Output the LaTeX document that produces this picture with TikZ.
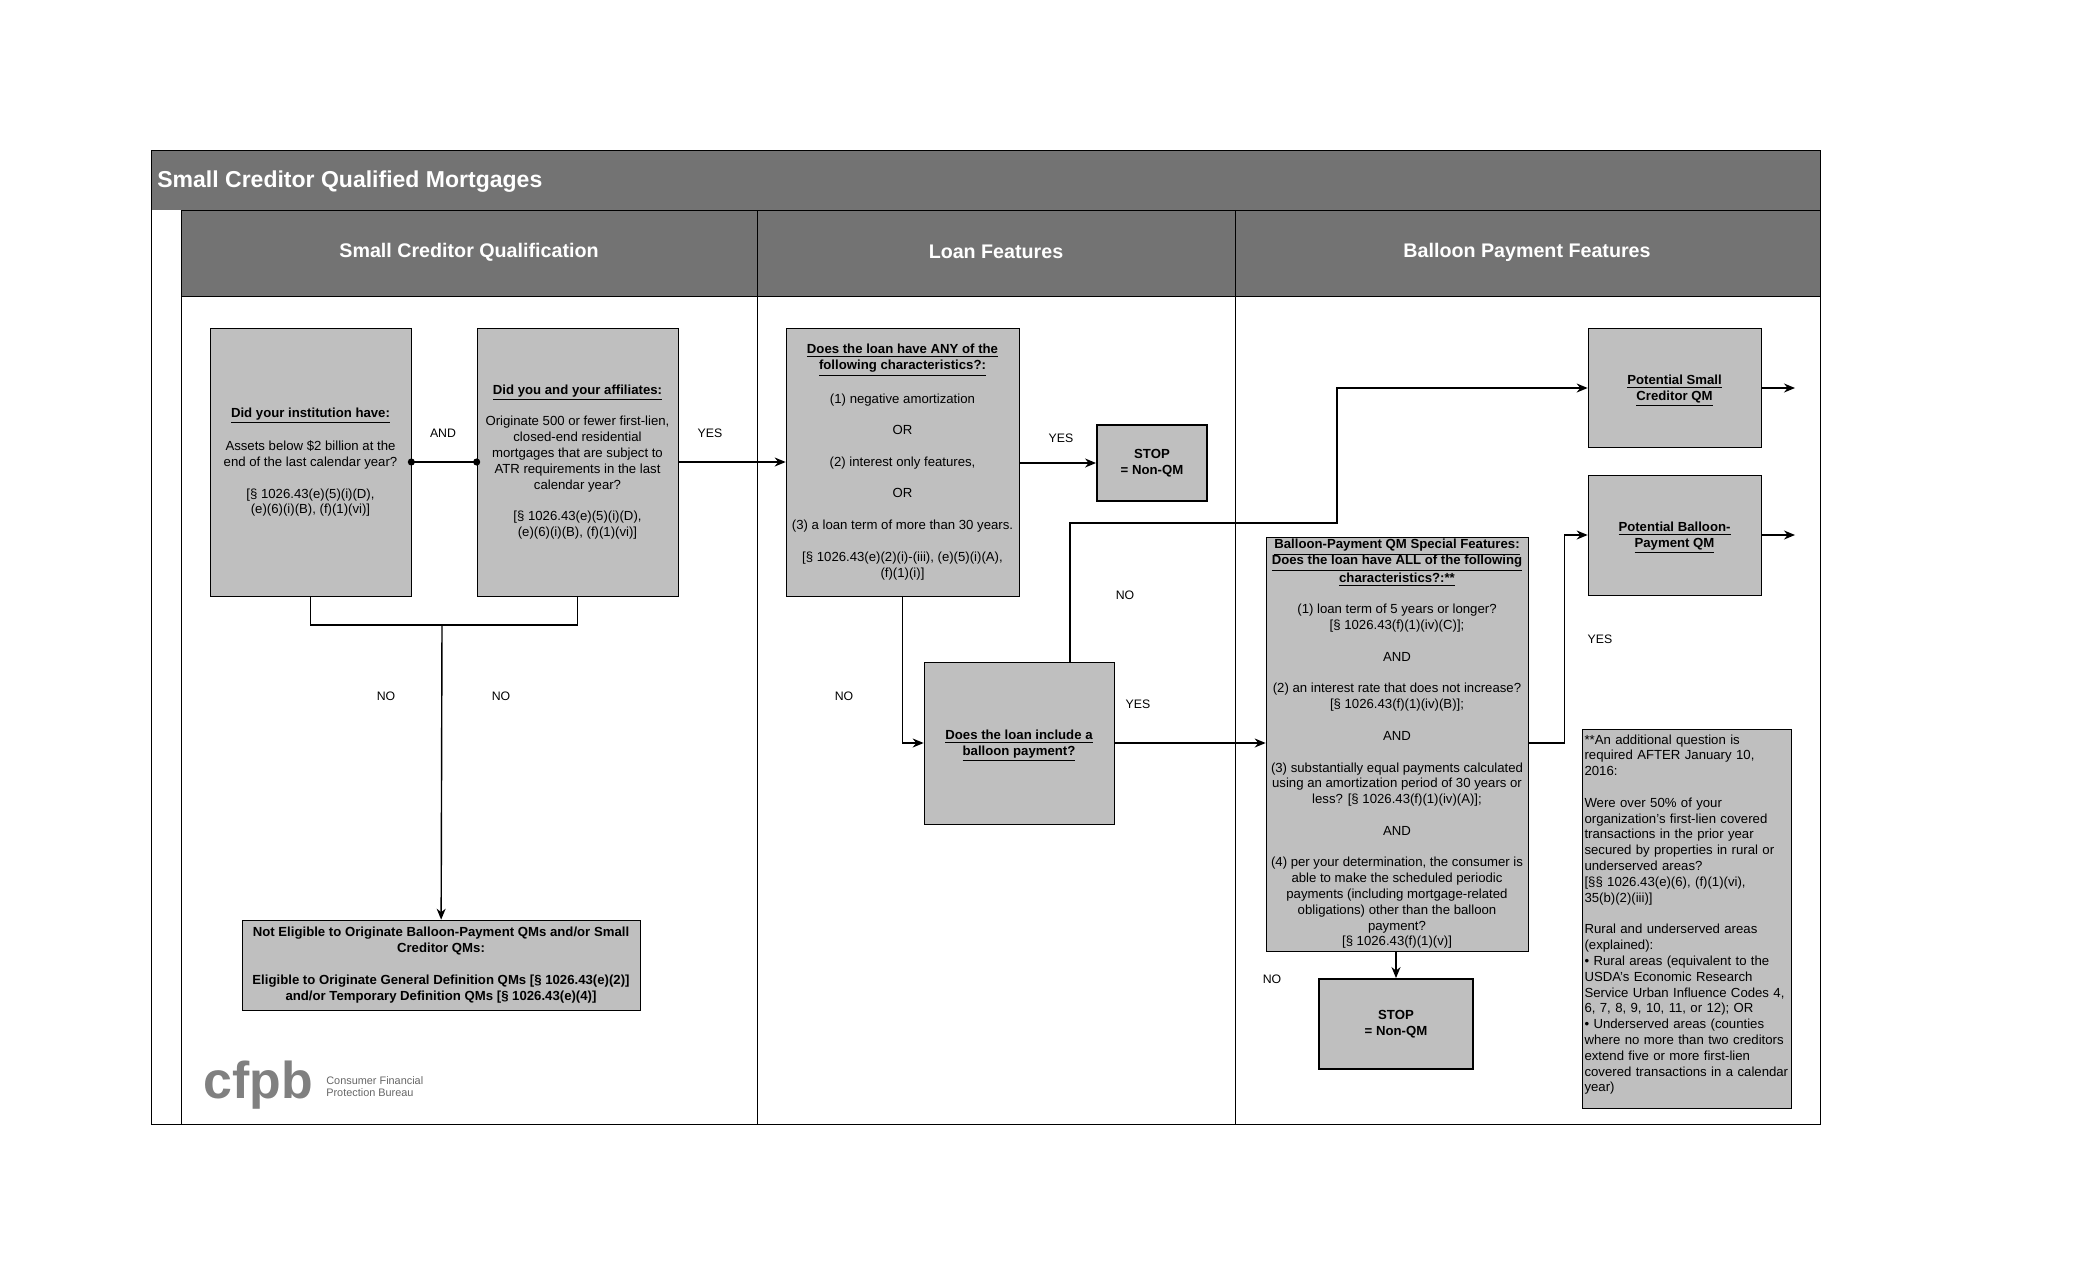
\documentclass[tikz,border=0pt]{standalone}
\usepackage{fontspec}
\setmainfont{Liberation Sans}
\usetikzlibrary{arrows.meta}

\newcommand{\qtitle}[1]{\textbf{\underline{#1}}}
\newcommand{\gapline}{\\[9pt]}
\newcommand{\lowerline}{\rule{0pt}{8.6pt}}

\begin{document}
\begin{tikzpicture}[
  x=0.02cm,y=-0.02cm,
  band/.style={text=white,font=\fontsize{11.2}{13}\selectfont\bfseries,inner sep=0pt},
  qbox/.style={draw,line width=0.4pt,fill=black!25,align=center,inner sep=0pt,font=\fontsize{7.5}{9}\selectfont},
  stopbox/.style={qbox,line width=1.1pt,font=\fontsize{7.5}{9}\selectfont\bfseries},
  lab/.style={font=\fontsize{7}{8.9}\selectfont,inner sep=0pt},
  flow/.style={-{Stealth[length=2.2mm,width=1.8mm]},line width=0.8pt},
  dots/.style={{Circle[length=1.4mm]}-{Circle[length=1.4mm]},line width=0.8pt,shorten <=-0.7mm,shorten >=-0.7mm},
  plain/.style={line width=0.8pt}
]
  \useasboundingbox (0,0) rectangle (2100,1275);

  % bands and lanes
  \fill[black!55] (151,150) rectangle (1820,210);
  \node[band,font=\fontsize{13.1}{15}\selectfont\bfseries,anchor=west] (maintitle) at (157,182) {Small Creditor Qualified Mortgages};
  \fill[black!55] (181,210) rectangle (1820,296);
  \node[band] (lanea) at (469,252) {Small Creditor Qualification};
  \node[band] (laneb) at (996,252) {Loan Features};
  \node[band] (lanec) at (1527,252) {Balloon Payment Features};
  \draw[line width=0.35pt] (151,150) rectangle (1820,1124);
  \draw[line width=0.35pt] (181,210) -- (181,1124);
  \draw[line width=0.35pt] (181,296) -- (1820,296);
  \draw[line width=0.35pt] (181,210) -- (1820,210);
  \draw[line width=0.35pt] (757,210) -- (757,1124);
  \draw[line width=0.35pt] (1235,210) -- (1235,1124);

  % first lane
  \node[qbox,minimum width=4.02cm,minimum height=5.36cm] (institution) at (310.5,462) {\qtitle{Did your institution have:}\gapline
    Assets below \$2 billion at the\\end of the last calendar year?\gapline
    {[}§ 1026.43(e)(5)(i)(D),\\(e)(6)(i)(B), (f)(1)(vi)]};
  \node[qbox,minimum width=4.02cm,minimum height=5.36cm] (affiliates) at (577.5,462) {\qtitle{Did you and your affiliates:}\gapline
    Originate 500 or fewer first-lien,\\closed-end residential\\mortgages that are subject to\\ATR requirements in the last\\calendar year?\gapline
    {[}§ 1026.43(e)(5)(i)(D),\\(e)(6)(i)(B), (f)(1)(vi)]};
  \node[qbox,font=\fontsize{7.5}{9}\selectfont\bfseries,minimum width=7.96cm,minimum height=1.8cm] (noteligible) at (441,965) {Not Eligible to Originate Balloon-Payment QMs and/or Small\\Creditor QMs:\gapline
    Eligible to Originate General Definition QMs [§ 1026.43(e)(2)]\\and/or Temporary Definition QMs [§ 1026.43(e)(4)]};
  \coordinate (join) at (442,625);

  % second lane
  \node[qbox,minimum width=4.66cm,minimum height=5.36cm] (features) at (902.5,462) {\qtitle{Does the loan have ANY of the}\\\qtitle{following characteristics?:}\gapline
    (1) negative amortization\gapline OR\gapline (2) interest only features,\gapline OR\gapline
    (3) a loan term of more than 30 years.\gapline
    {[}§ 1026.43(e)(2)(i)-(iii), (e)(5)(i)(A),\\(f)(1)(i)]};
  \node[stopbox,minimum width=2.2cm,minimum height=1.52cm] (stopa) at (1152,463) {STOP\\= Non-QM};
  \node[qbox,minimum width=3.8cm,minimum height=3.24cm] (balloon) at (1019,743) {\lowerline\qtitle{Does the loan include a}\\\qtitle{balloon payment?}};

  % third lane
  \node[qbox,minimum width=5.24cm,minimum height=8.28cm] (special) at (1397,744) {\qtitle{Balloon-Payment QM Special Features:}\\\qtitle{Does the loan have ALL of the following}\\\qtitle{characteristics?:**}\gapline
    (1) loan term of 5 years or longer?\\{[}§ 1026.43(f)(1)(iv)(C)];\gapline AND\gapline
    (2) an interest rate that does not increase?\\{[}§ 1026.43(f)(1)(iv)(B)];\gapline AND\gapline
    (3) substantially equal payments calculated\\using an amortization period of 30 years or\\less? [§ 1026.43(f)(1)(iv)(A)];\gapline AND\gapline
    (4) per your determination,  the consumer is\\able to make the scheduled periodic\\payments (including mortgage-related\\obligations) other than the balloon\\payment?\\{[}§ 1026.43(f)(1)(v)]};
  \node[stopbox,minimum width=3.08cm,minimum height=1.8cm] (stopb) at (1396,1024) {STOP\\= Non-QM};
  \node[qbox,minimum width=3.46cm,minimum height=2.38cm] (smallqm) at (1674.5,388) {\lowerline\qtitle{Potential Small}\\\qtitle{Creditor QM}};
  \node[qbox,minimum width=3.46cm,minimum height=2.4cm] (balloonqm) at (1674.5,535) {\lowerline\qtitle{Potential Balloon-}\\\qtitle{Payment QM}};
  \node[qbox,align=left,text width=4.08cm,inner xsep=0.05cm,minimum height=7.58cm] (note) at (1686.5,918.5) {**An additional question is\\required AFTER January 10,\\2016:\gapline
    Were over 50\% of your\\organization's first-lien covered\\transactions in the prior year\\secured by properties in rural or\\underserved areas?\\{[}§§ 1026.43(e)(6), (f)(1)(vi),\\35(b)(2)(iii)]\gapline
    Rural and underserved areas\\(explained):\\• Rural areas (equivalent to the\\USDA's Economic Research\\Service Urban Influence Codes 4,\\6, 7, 8, 9, 10, 11, or 12); OR\\• Underserved areas (counties\\where no more than two creditors\\extend five or more first-lien\\covered transactions in a calendar\\year)\rule[-6pt]{0pt}{6pt}};
  \coordinate (smallend) at (1795,388);
  \coordinate (balloonend) at (1795,535);

  % connectors
  \draw[dots] (institution) -- (affiliates);
  \draw[flow] (affiliates) -- (features);
  \draw[flow] (features.east |- stopa) -- (stopa);
  \draw[plain] (institution) |- (join) -| (affiliates);
  \draw[flow] (join) -- (noteligible);
  \draw[flow] (features.south) |- (balloon.west);
  \draw[flow] (balloon.north -| 1070,0) |- (1337,523) |- (smallqm.west);
  \draw[flow] (balloon.east) -- (special.west |- balloon);
  \draw[flow] (special.east |- balloon) -- +(36,0) |- (balloonqm.west);
  \draw[flow] (special.south -| stopb) -- (stopb);
  \draw[flow] (smallqm) -- (smallend);
  \draw[flow] (balloonqm) -- (balloonend);

  % labels
  \node[lab] (andlab) at (443,433) {AND};
  \node[lab] (yesa) at (710,433) {YES};
  \node[lab] (yesb) at (1061,438) {YES};
  \node[lab] (noa) at (1125,595) {NO};
  \node[lab] (nob) at (844,696) {NO};
  \node[lab] (yesc) at (1138,704) {YES};
  \node[lab] (yesd) at (1600,639) {YES};
  \node[lab] (noc) at (1272,979) {NO};
  \node[lab] (nod) at (386,696) {NO};
  \node[lab] (noe) at (501,696) {NO};

  % logo
  \node[anchor=west,inner sep=0pt,text=black!50,font=\fontsize{29.5}{30}\selectfont\bfseries] (logo) at (203,1085) {cfpb};
  \node[anchor=west,inner sep=0pt,align=left,text=black!60,font=\fontsize{6.2}{6.8}\selectfont] (logotext) at (326,1087) {Consumer Financial\\Protection Bureau};
\end{tikzpicture}
\end{document}
